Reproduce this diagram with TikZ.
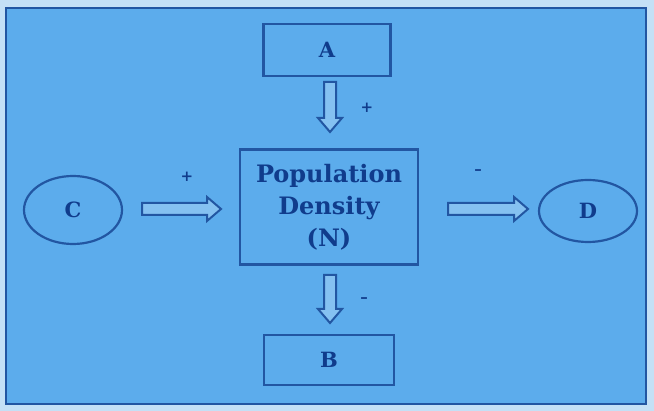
\documentclass[tikz,border=0pt]{standalone}
\usepackage{fontspec}
\setmainfont{DejaVu Serif}
\usetikzlibrary{calc,shapes.geometric}
\definecolor{bg}{RGB}{92,172,236}
\definecolor{paper}{RGB}{196,224,246}
\definecolor{ink}{RGB}{34,86,162}
\definecolor{txt}{RGB}{16,60,140}
\newcommand{\hollowright}[2]{%
  \draw[arrowline] let \p1=(#1), \p2=(#2) in
    (\x1,\y1+6pt) -- (\x2-14pt,\y1+6pt) -- (\x2-14pt,\y1+12pt) -- (\x2,\y1)
    -- (\x2-14pt,\y1-12pt) -- (\x2-14pt,\y1-6pt) -- (\x1,\y1-6pt) -- cycle;}
\newcommand{\hollowdown}[2]{%
  \draw[arrowline] let \p1=(#1), \p2=(#2) in
    (\x1-6pt,\y1) -- (\x1-6pt,\y2+14pt) -- (\x1-12pt,\y2+14pt) -- (\x1,\y2)
    -- (\x1+12pt,\y2+14pt) -- (\x1+6pt,\y2+14pt) -- (\x1+6pt,\y1) -- cycle;}
\begin{document}
\begin{tikzpicture}[x=1pt,y=-1pt,
  boxnode/.style={draw=ink, line width=2.2pt, fill=bg, inner sep=0pt, text=txt,
    font=\bfseries\fontsize{21}{24}\selectfont},
  ellnode/.style={ellipse, draw=ink, line width=2.2pt, fill=bg, inner sep=0pt, text=txt,
    font=\bfseries\fontsize{21}{24}\selectfont},
  arrowline/.style={draw=ink, line width=2pt, fill=bg!75!white, line join=miter},
  signlabel/.style={text=txt, font=\bfseries\fontsize{15}{15}\selectfont, inner sep=0pt}]
\useasboundingbox (0,0) rectangle (654,411);
\fill[paper] (0,0) rectangle (654,411);
\draw[ink, line width=2.2pt, fill=bg] (6,8) rectangle (646,404);

\node[boxnode, minimum width=127pt, minimum height=52pt] (A) at (327,50) {A};
\node[boxnode, minimum width=178pt, minimum height=115pt, align=center,
  font=\bfseries\fontsize{24}{32}\selectfont] (N) at (329,207) {Population\\Density\\(N)};
\node[boxnode, minimum width=130pt, minimum height=50pt] (B) at (329,360) {B};
\node[ellnode, minimum width=98pt, minimum height=68pt] (C) at (73,210) {C};
\node[ellnode, minimum width=98pt, minimum height=62pt] (D) at (588,211) {D};

\coordinate (a1) at (330,82);  \coordinate (a2) at (330,132);
\coordinate (b1) at (330,275); \coordinate (b2) at (330,323);
\coordinate (c1) at (142,209); \coordinate (c2) at (221,209);
\coordinate (d1) at (448,209); \coordinate (d2) at (528,209);

\hollowdown{a1}{a2}
\hollowdown{b1}{b2}
\hollowright{c1}{c2}
\hollowright{d1}{d2}

\node[signlabel] (p1) at (367,108) {+};
\node[signlabel] (m1) at (364,300) {--};
\node[signlabel] (p2) at (187,177) {+};
\node[signlabel] (m2) at (478,172) {--};
\end{tikzpicture}
\end{document}
